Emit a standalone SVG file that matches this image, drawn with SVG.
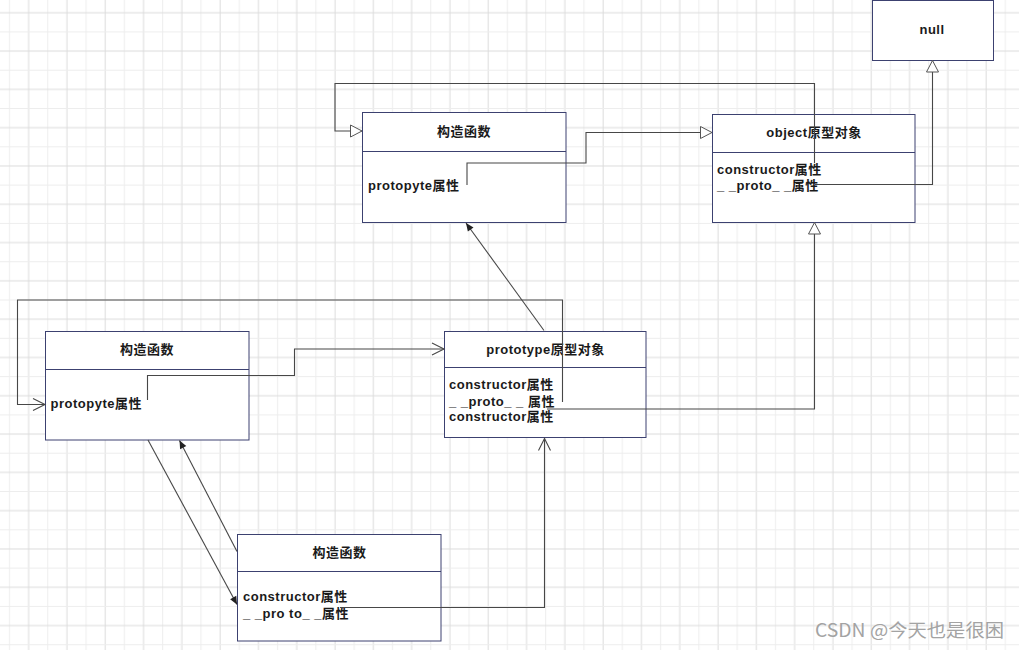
<svg xmlns="http://www.w3.org/2000/svg" width="1019" height="650" viewBox="0 0 1019 650">
<style>
.box{fill:#fff;stroke:#3c4170;stroke-width:1}
.t{font-family:"Liberation Sans","Noto Sans CJK SC",sans-serif;font-size:13px;font-weight:bold;fill:#1a1a1a;white-space:pre;letter-spacing:0.5px}
.c{text-anchor:middle}
.ln{fill:none;stroke:#474747;stroke-width:1.1}
</style>
<defs>
<pattern id="grid" x="0" y="0" width="38.3" height="38.3" patternUnits="userSpaceOnUse">
<path d="M9.5,0V38.3" stroke="#ededed" stroke-width="1"/>
<path d="M28.65,0V38.3" stroke="#dcdcdc" stroke-width="1"/>
<path d="M0,12.7H38.3" stroke="#dcdcdc" stroke-width="1"/>
<path d="M0,31.85H38.3" stroke="#ededed" stroke-width="1"/>
</pattern>
<marker id="hollow" markerUnits="userSpaceOnUse" markerWidth="14" markerHeight="14" refX="12" refY="6.5" orient="auto" overflow="visible">
<path d="M0.5,0.5L12,6.5L0.5,12.5Z" fill="#fff" stroke="#555" stroke-width="1"/>
</marker>
<marker id="open" markerUnits="userSpaceOnUse" markerWidth="14" markerHeight="14" refX="12" refY="6.5" orient="auto" overflow="visible">
<path d="M0,0.5L12,6.5L0,12.5" fill="none" stroke="#474747" stroke-width="1.1"/>
</marker>
<marker id="fill" markerUnits="userSpaceOnUse" markerWidth="10" markerHeight="10" refX="8" refY="3.5" orient="auto" overflow="visible">
<path d="M0,0L8,3.5L0,7Z" fill="#222"/>
</marker>
</defs>
<rect width="1019" height="650" fill="#fff"/>
<rect width="1019" height="650" fill="url(#grid)"/>

<g id="node-null">
<rect class="box" x="872.5" y="0.5" width="121" height="60"/>
<text class="t c" x="932" y="33.5">null</text>
</g>

<g id="node-ctor-top">
<rect class="box" x="362.5" y="112.5" width="203.5" height="110"/>
<line class="box" x1="362.5" y1="151.5" x2="566" y2="151.5"/>
<text class="t c" x="464" y="135.5">构造函数</text>
<text class="t" x="368" y="190">protopyte属性</text>
</g>

<g id="node-object">
<rect class="box" x="712.5" y="114.5" width="202.5" height="108"/>
<line class="box" x1="712.5" y1="152.5" x2="915" y2="152.5"/>
<text class="t c" x="814" y="136.5">object原型对象</text>
<text class="t" x="717" y="173.5">constructor属性</text>
<text class="t" x="717" y="190">_ _proto_ _属性</text>
</g>

<g id="node-ctor-left">
<rect class="box" x="45.5" y="331.5" width="203.5" height="108.5"/>
<line class="box" x1="45.5" y1="369.5" x2="249" y2="369.5"/>
<text class="t c" x="147" y="353.5">构造函数</text>
<text class="t" x="50.5" y="408">protopyte属性</text>
</g>

<g id="node-prototype">
<rect class="box" x="444.5" y="331.5" width="201.5" height="106"/>
<line class="box" x1="444.5" y1="367.5" x2="646" y2="367.5"/>
<text class="t c" x="545.5" y="353.5">prototype原型对象</text>
<text class="t" x="449" y="389">constructor属性</text>
<text class="t" x="449" y="405.5">_ _proto_ _ 属性</text>
<text class="t" x="449" y="421">constructor属性</text>
</g>

<g id="node-ctor-bottom">
<rect class="box" x="237.5" y="534.5" width="203.5" height="106.5"/>
<line class="box" x1="237.5" y1="571.5" x2="441" y2="571.5"/>
<text class="t c" x="339.5" y="556.5">构造函数</text>
<text class="t" x="243" y="601">constructor属性</text>
<text class="t" x="243" y="618">_ _pro to_ _属性</text>
</g>

<g id="connectors">
<path class="ln" d="M814.5,163V83.5H335V131H362" marker-end="url(#hollow)"/>
<path class="ln" d="M467,185V163H586V132.5H712" marker-end="url(#hollow)"/>
<path class="ln" d="M815,184.5H932.5V60.5" marker-end="url(#hollow)"/>
<path class="ln" d="M547,409H814.5V222.5" marker-end="url(#hollow)"/>
<path class="ln" d="M544,330.5L466,223" marker-end="url(#fill)"/>
<path class="ln" d="M562.5,402V300H17.5V404.5H45" marker-end="url(#open)"/>
<path class="ln" d="M147.5,400V375.5H294.5V349H444" marker-end="url(#open)"/>
<path class="ln" d="M340,607.5H544.5V438.5" marker-end="url(#open)"/>
<path class="ln" d="M148,440L237,604.5" marker-end="url(#fill)"/>
<path class="ln" d="M237,551.5L179.5,440.5" marker-end="url(#fill)"/>
</g>

<text x="815" y="637" font-family="Noto Sans CJK SC, Noto Sans, sans-serif" font-size="18" fill="#a3a3a3" textLength="189" lengthAdjust="spacingAndGlyphs">CSDN @今天也是很困</text>
</svg>
